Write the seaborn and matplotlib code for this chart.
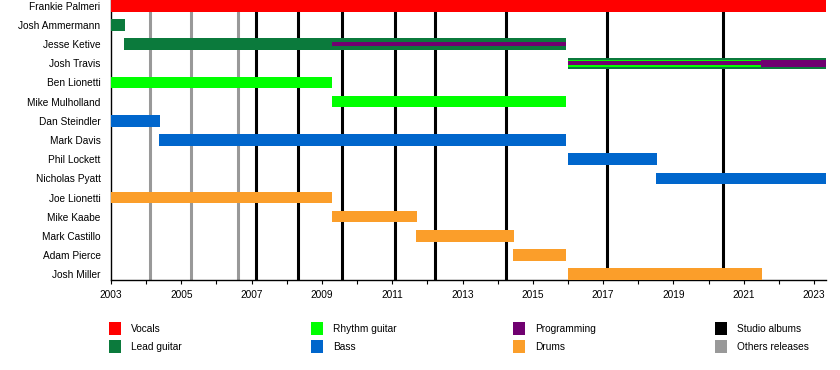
import numpy as np
import seaborn as sns
import matplotlib.pyplot as plt
from matplotlib.patches import Rectangle

# band members, top to bottom
members = ['Frankie Palmeri', 'Josh Ammermann', 'Jesse Ketive', 'Josh Travis',
           'Ben Lionetti', 'Mike Mulholland', 'Dan Steindler', 'Mark Davis',
           'Phil Lockett', 'Nicholas Pyatt', 'Joe Lionetti', 'Mike Kaabe',
           'Mark Castillo', 'Adam Pierce', 'Josh Miller']

# main (full height) bars
main_member = ['Frankie Palmeri', 'Josh Ammermann', 'Jesse Ketive', 'Josh Travis',
               'Ben Lionetti', 'Mike Mulholland', 'Dan Steindler', 'Mark Davis',
               'Phil Lockett', 'Nicholas Pyatt', 'Joe Lionetti', 'Mike Kaabe',
               'Mark Castillo', 'Adam Pierce', 'Josh Miller']
main_start = [2003.0, 2003.0, 2003.37, 2016.0, 2003.0, 2009.3, 2003.0, 2004.37,
              2016.0, 2018.5, 2003.0, 2009.3, 2011.68, 2014.44, 2016.0]
main_end = [2023.34, 2003.4, 2015.94, 2023.34, 2009.3, 2015.94, 2004.4, 2015.94,
            2018.53, 2023.34, 2009.3, 2011.7, 2014.47, 2015.94, 2021.52]
main_role = ['Vocals', 'Lead guitar', 'Lead guitar', 'Lead guitar',
             'Rhythm guitar', 'Rhythm guitar', 'Bass', 'Bass', 'Bass', 'Bass',
             'Drums', 'Drums', 'Drums', 'Drums', 'Drums']

# inner layer (secondary role)
inner_member = ['Josh Travis', 'Josh Travis']
inner_start = [2016.0, 2021.5]
inner_end = [2021.5, 2023.34]
inner_role = ['Rhythm guitar', 'Programming']

# thin center layer (third role)
thin_member = ['Jesse Ketive', 'Josh Travis']
thin_start = [2009.3, 2016.0]
thin_end = [2015.94, 2021.5]
thin_role = ['Programming', 'Programming']

studio_albums = [2007.13, 2008.32, 2009.57, 2011.08, 2012.22, 2014.24, 2017.11, 2020.41]
other_releases = [2004.11, 2005.28, 2006.61]

roles = ['Vocals', 'Lead guitar', 'Rhythm guitar', 'Bass', 'Programming', 'Drums',
         'Studio albums', 'Others releases']
colors = ['#ff0000', '#0b7a3c', '#00ff00', '#0066cc', '#700070', '#fb9e2a',
          '#000000', '#999999']
role_color = dict(zip(roles, colors))

sns.set_theme(style='white')
plt.rcParams['font.family'] = ['Liberation Sans', 'DejaVu Sans']
plt.rcParams['text.color'] = 'black'
plt.rcParams['xtick.color'] = 'black'
plt.rcParams['ytick.color'] = 'black'
plt.rcParams['xtick.labelcolor'] = 'black'
plt.rcParams['ytick.labelcolor'] = 'black'

fig = plt.figure(figsize=(8.4, 3.7), dpi=100)
ax = fig.add_axes([111 / 840, 90 / 370, 715 / 840, 280 / 370])

ypos = {m: i for i, m in enumerate(members)}

for x in other_releases:
    ax.axvline(x, color=role_color['Others releases'], lw=2.2, zorder=1)
for x in studio_albums:
    ax.axvline(x, color=role_color['Studio albums'], lw=2.2, zorder=1)

layers = [(main_member, main_start, main_end, main_role, 0.6),
          (inner_member, inner_start, inner_end, inner_role, 0.37),
          (thin_member, thin_start, thin_end, thin_role, 0.2)]
for z, (mem, st, en, rl, h) in enumerate(layers):
    ax.barh([ypos[m] for m in mem], np.array(en) - np.array(st), left=st,
            height=h, color=[role_color[r] for r in rl], linewidth=0,
            edgecolor='none', zorder=3 + z)

ax.set_xlim(2003, 2023.34)
ax.set_ylim(len(members) - 1 + 0.3, -0.3)
ax.set_yticks(range(len(members)))
ax.set_yticklabels(members)
ax.set_xticks(np.arange(2003, 2024, 2))
ax.set_xticks(np.arange(2003, 2024, 1), minor=True)
ax.tick_params(axis='x', which='both', bottom=True, direction='out', length=3,
               width=0.8, color='black', labelsize=7.3, pad=4)
ax.tick_params(axis='y', left=False, labelsize=7.3, pad=1.5)
for side in ['top', 'right']:
    ax.spines[side].set_visible(False)
for side in ['left', 'bottom']:
    ax.spines[side].set_color('black')
    ax.spines[side].set_linewidth(1.0)
ax.grid(False)

# legend, two rows by four columns
for i, (label, c) in enumerate(zip(roles, colors)):
    col, row = i // 2, i % 2
    x0 = (109 + col * 202) / 840
    y0 = 1 - (322 + row * 18) / 370
    fig.patches.append(Rectangle((x0, y0 - 13 / 370), 12 / 840, 13 / 370,
                                 transform=fig.transFigure, color=c, lw=0))
    fig.text(x0 + 22 / 840, y0 - 6.5 / 370, label, fontsize=7.3, va='center',
             ha='left')

fig.savefig('out.png', dpi=100)
